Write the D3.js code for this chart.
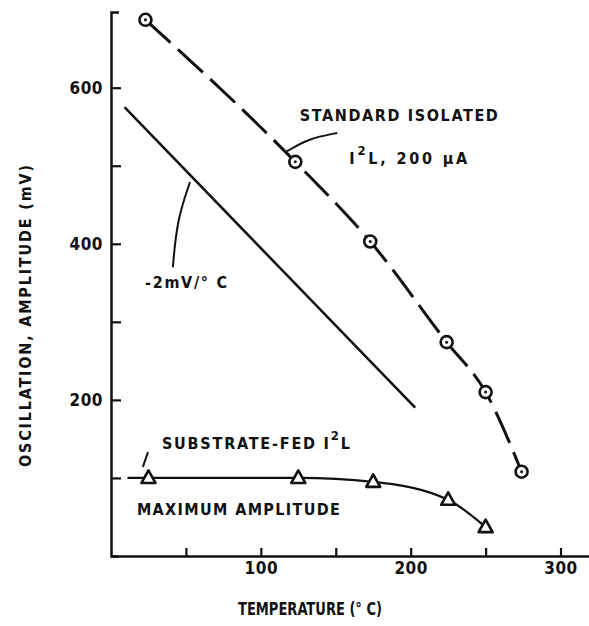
<!DOCTYPE html>
<html lang="en">
<head>
    <meta charset="UTF-8">
    <title>Oscillation amplitude vs temperature</title>
    <script src="https://cdn.jsdelivr.net/npm/d3@7"></script>
    <style>
        body { margin: 0; background: #fff; }
        text { font-family: "Liberation Sans Narrow", "DejaVu Sans Condensed", sans-serif; font-weight: bold; fill: #111; }
    </style>
</head>
<body>
</body>
<script>
    // standard isolated I2L, 200 uA (circles)
    const isoTemps = [23, 123, 173, 224, 250, 274];
    const isoAmps = [687, 505, 403, 274, 210, 108];

    // substrate-fed I2L maximum amplitude (triangles)
    const fedTemps = [25, 125, 175, 225, 250];
    const fedAmps = [100, 100, 95, 72, 37];
    const fedLineTemps = [11, 25, 125, 175, 225, 250];
    const fedLineAmps = [100, 100, 100, 95, 72, 37];

    // -2 mV/°C reference line
    const refTemps = [9, 203];
    const refAmps = [575, 190];

    const xTicks = [50, 100, 150, 200, 250, 300];
    const xLabels = [100, 200, 300];
    const yTicks = [100, 200, 300, 400, 500, 600];
    const yLabels = [200, 400, 600];

    const width = 589;
    const height = 626;
    const margin = {left: 111, right: 0, top: 12, bottom: 70};

    const svg = d3.select("body")
    .append("svg")
        .attr("width", width)
        .attr("height", height);

    const x = d3.scaleLinear().domain([0, 319]).range([margin.left, width - margin.right]);
    const y = d3.scaleLinear().domain([0, 697]).range([height - margin.bottom, margin.top]);

    // axes
    svg.append("g")
        .attr("transform", `translate(0, ${y(0)})`)
        .call(d3.axisBottom(x)
            .tickValues(xTicks)
            .tickSizeInner(-8)
            .tickSizeOuter(0)
            .tickPadding(6)
            .tickFormat(d => xLabels.includes(d) ? d : ""));

    svg.append("g")
        .attr("transform", `translate(${x(0)}, 0)`)
        .call(d3.axisLeft(y)
            .tickValues(yTicks)
            .tickSizeInner(-10)
            .tickSizeOuter(-8)
            .tickPadding(8)
            .tickFormat(d => yLabels.includes(d) ? d : ""));

    svg.selectAll(".domain").attr("stroke", "#111").attr("stroke-width", 2.5);
    svg.selectAll(".tick line").attr("stroke", "#111").attr("stroke-width", 2.2);
    svg.selectAll(".tick text")
        .style("font-size", "17px")
        .style("letter-spacing", "0.5px")
        .attr("fill", "#111");

    // axis titles
    svg.append("text")
        .attr("x", 238)
        .attr("y", 608)
        .attr("dominant-baseline", "central")
        .attr("textLength", 144)
        .attr("lengthAdjust", "spacingAndGlyphs")
        .style("font-size", "18px")
        .text("TEMPERATURE (° C)");

    svg.append("text")
        .attr("transform", "translate(25, 467) rotate(-90)")
        .attr("dominant-baseline", "central")
        .attr("textLength", 302)
        .attr("lengthAdjust", "spacing")
        .style("font-size", "16px")
        .text("OSCILLATION, AMPLITUDE (mV)");

    // curves
    const line = d3.line()
        .x(d => x(d[0]))
        .y(d => y(d[1]));

    svg.append("path")
        .datum(refTemps.map((t, i) => [t, refAmps[i]]))
        .attr("d", line)
        .attr("fill", "none")
        .attr("stroke", "#111")
        .attr("stroke-width", 2.5);

    svg.append("path")
        .datum(isoTemps.map((t, i) => [t, isoAmps[i]]))
        .attr("d", line.curve(d3.curveMonotoneX))
        .attr("fill", "none")
        .attr("stroke", "#111")
        .attr("stroke-width", 3)
        .attr("stroke-dasharray", "34,10");

    svg.append("path")
        .datum(fedLineTemps.map((t, i) => [t, fedLineAmps[i]]))
        .attr("d", line.curve(d3.curveMonotoneX))
        .attr("fill", "none")
        .attr("stroke", "#111")
        .attr("stroke-width", 2.2);

    // markers
    const circles = svg.append("g")
        .selectAll("g")
        .data(isoTemps.map((t, i) => [t, isoAmps[i]]))
        .enter()
        .append("g")
        .attr("transform", d => `translate(${x(d[0])}, ${y(d[1])})`);

    circles.append("circle")
        .attr("r", 6)
        .attr("fill", "#fff")
        .attr("stroke", "#111")
        .attr("stroke-width", 2.6);

    circles.append("circle")
        .attr("r", 1.5)
        .attr("fill", "#111");

    svg.append("g")
        .selectAll("path")
        .data(fedTemps.map((t, i) => [t, fedAmps[i]]))
        .enter()
        .append("path")
        .attr("transform", d => `translate(${x(d[0])}, ${y(d[1])})`)
        .attr("d", "M0,-7.5 L7,5 L-7,5 Z")
        .attr("fill", "#fff")
        .attr("stroke", "#111")
        .attr("stroke-width", 2.6)
        .attr("stroke-linejoin", "round");

    // annotations (temperature, amplitude, label width)
    const notes = [
        {t: 126, a: 565, w: 198, text: "STANDARD ISOLATED"},
        {t: 22.7, a: 350, w: 82, text: "-2mV/° C"},
        {t: 17.3, a: 59, w: 203, text: "MAXIMUM AMPLITUDE"}
    ];

    svg.append("g")
        .selectAll("text")
        .data(notes)
        .enter()
        .append("text")
        .attr("x", d => x(d.t))
        .attr("y", d => y(d.a))
        .attr("dominant-baseline", "central")
        .attr("textLength", d => d.w)
        .attr("lengthAdjust", "spacing")
        .style("font-size", "16px")
        .text(d => d.text);

    const isoLabel = svg.append("text")
        .attr("x", x(159))
        .attr("y", y(510))
        .attr("dominant-baseline", "central")
        .style("font-size", "16px")
        .style("letter-spacing", "2.8px");
    isoLabel.append("tspan").text("I");
    isoLabel.append("tspan").attr("dy", -8).style("font-size", "13px").text("2");
    isoLabel.append("tspan").attr("dy", 8).text("L, 200 µA");

    const fedLabel = svg.append("text")
        .attr("x", x(34))
        .attr("y", y(145))
        .attr("dominant-baseline", "central")
        .style("font-size", "16px")
        .style("letter-spacing", "1.8px");
    fedLabel.append("tspan").text("SUBSTRATE-FED I");
    fedLabel.append("tspan").attr("dy", -8).style("font-size", "13px").text("2");
    fedLabel.append("tspan").attr("dy", 8).text("L");

    // leader lines
    const leaders = [
        [[117, 518], [132, 535], [151, 542]],
        [[41.3, 370], [44, 430], [52.7, 479]],
        [[21.3, 114], [23, 124], [24.7, 133]]
    ];

    svg.append("g")
        .selectAll("path")
        .data(leaders)
        .enter()
        .append("path")
        .attr("d", d3.line().x(d => x(d[0])).y(d => y(d[1])).curve(d3.curveBasis))
        .attr("fill", "none")
        .attr("stroke", "#111")
        .attr("stroke-width", 2);
</script>
</html>
